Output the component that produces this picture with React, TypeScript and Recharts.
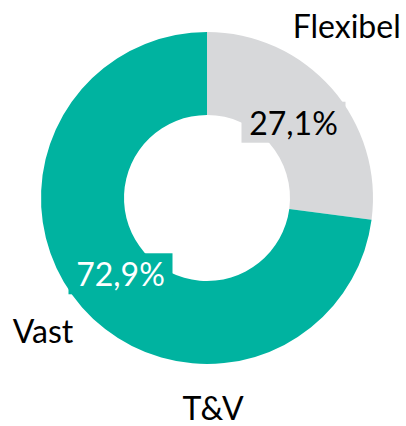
import React from "react"
import { PieChart, Pie, Cell } from "recharts"

const categories = ["Flexibel", "Vast"]
const shares = [27.1, 72.9]
const shareLabels = ["27,1%", "72,9%"]
const title = "T&V"

const colors = ["#D7D8DA", "#00B3A0"]
const labelText = ["#000000", "#FFFFFF"]
// where each category name sits, in polar terms around the centre
const namePlacement = [
  { angle: 51, radius: 222 },
  { angle: -141, radius: 211 },
]

const data = categories.map((name, i) => ({ name, value: shares[i] }))

const FONT = "Lato, 'Open Sans', sans-serif"
const RAD = Math.PI / 180

function renderLabel(props: any) {
  const { cx, cy, midAngle, index } = props
  const r = 115
  const x = cx + r * Math.cos(-midAngle * RAD)
  const y = cy + r * Math.sin(-midAngle * RAD)
  const boxW = 104
  const boxH = 41
  const place = namePlacement[index]
  const nx = cx + place.radius * Math.cos(-place.angle * RAD)
  const ny = cy + place.radius * Math.sin(-place.angle * RAD)
  return (
    <g>
      <rect x={x - boxW / 2} y={y - boxH / 2} width={boxW} height={boxH} fill={colors[index]} />
      <text
        x={x}
        y={y}
        textAnchor="middle"
        dominantBaseline="central"
        fill={labelText[index]}
        fontSize={32}
        fontFamily={FONT}
      >
        {shareLabels[index]}
      </text>
      <text
        x={nx}
        y={ny}
        textAnchor="middle"
        dominantBaseline="central"
        fill="#000000"
        fontSize={32}
        fontFamily={FONT}
      >
        {categories[index]}
      </text>
    </g>
  )
}

export default function App() {
  return (
    <div style={{ position: "absolute", left: 0, top: 0, width: 406, height: 426, background: "#fff" }}>
      <PieChart width={406} height={426} margin={{ top: 0, right: 0, bottom: 0, left: 0 }}>
        <Pie
          data={data}
          dataKey="value"
          nameKey="name"
          cx={207}
          cy={198}
          innerRadius={83}
          outerRadius={166}
          startAngle={90}
          endAngle={-270}
          stroke="none"
          labelLine={false}
          label={renderLabel}
          isAnimationActive={false}
        >
          {data.map((d, i) => (
            <Cell key={d.name} fill={colors[i]} />
          ))}
        </Pie>
      </PieChart>
      <div
        style={{
          position: "absolute",
          left: 0,
          width: 426,
          top: 388,
          textAlign: "center",
          fontFamily: FONT,
          fontSize: 32,
          lineHeight: "40px",
          color: "#000",
        }}
      >
        {title}
      </div>
    </div>
  )
}
